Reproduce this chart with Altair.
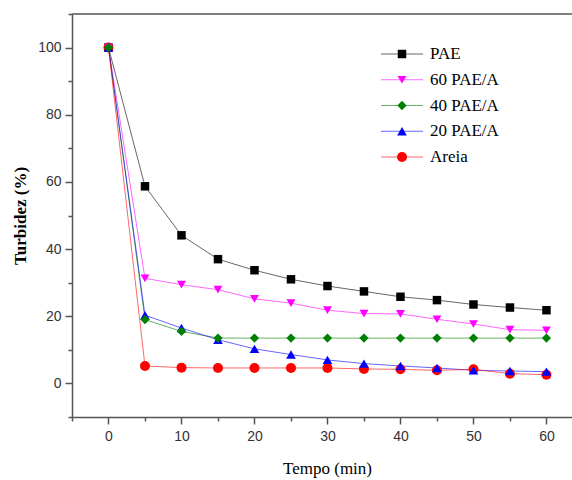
import altair as alt
import pandas as pd

times = [0, 5, 10, 15, 20, 25, 30, 35, 40, 45, 50, 55, 60]
pae = [100, 58.7, 44.1, 37.0, 33.7, 31.0, 29.0, 27.4, 25.8, 24.8, 23.5, 22.6, 21.8]
pae60 = [100, 31.3, 29.4, 27.9, 25.2, 23.9, 21.8, 20.8, 20.7, 19.1, 17.7, 16.0, 15.8]
pae40 = [100, 19.0, 15.5, 13.5, 13.5, 13.5, 13.5, 13.5, 13.5, 13.5, 13.5, 13.5, 13.5]
pae20 = [100, 20.3, 16.5, 13.0, 10.3, 8.6, 7.0, 5.9, 5.2, 4.6, 3.9, 3.7, 3.5]
areia = [100, 5.2, 4.7, 4.6, 4.6, 4.6, 4.6, 4.3, 4.2, 3.9, 4.2, 2.9, 2.6]

names = ["PAE", "60 PAE/A", "40 PAE/A", "20 PAE/A", "Areia"]
series_values = [pae, pae60, pae40, pae20, areia]
colors = ["#000000", "#ff00ff", "#008000", "#0000ff", "#ff0000"]
shapes = ["square", "triangle-down", "diamond", "triangle-up", "circle"]
sizes = [72, 100, 100, 100, 72]
zorder = [0, 3, 4, 2, 1]

x_major = [0, 10, 20, 30, 40, 50, 60]
x_minor = [-5, 5, 15, 25, 35, 45, 55]
y_major = [0, 20, 40, 60, 80, 100]
y_minor = [-10, 10, 30, 50, 70, 90, 110]

SERIF = "Liberation Serif, Times New Roman, serif"

rows = []
for name, vals, z in zip(names, series_values, zorder):
    for t, v in zip(times, vals):
        rows.append({"t": t, "v": v, "series": name, "z": z})
df = pd.DataFrame(rows)
leg = pd.DataFrame({"series": names})

color_scale = alt.Scale(domain=names, range=colors)
shape_scale = alt.Scale(domain=names, range=shapes)
size_scale = alt.Scale(domain=names, range=sizes)
xs = alt.Scale(domain=[-5, 63.5], nice=False, zero=False)
ys = alt.Scale(domain=[-10, 110], nice=False, zero=False)

x_enc = alt.X(
    "t:Q", scale=xs,
    axis=alt.Axis(
        orient="bottom",
        values=x_major,
        tickSize=7,
        title="Tempo (min)",
        titleFont=SERIF,
        titleFontSize=17,
        titleFontWeight="normal",
        titleX=255,
        titleY=51,
        titleBaseline="middle",
        labelPadding=5,
    ),
)
y_enc = alt.Y(
    "v:Q", scale=ys,
    axis=alt.Axis(
        orient="left",
        values=y_major,
        tickSize=7,
        title="Turbidez (%)",
        titleFont=SERIF,
        titleFontSize=17,
        titleFontWeight="bold",
        titlePadding=8,
        labelPadding=4,
    ),
)

base = alt.Chart(df)
lines = base.mark_line(strokeWidth=1, opacity=0.6).encode(
    x=x_enc,
    y=y_enc,
    color=alt.Color("series:N", scale=color_scale, legend=None),
    detail="series:N",
)
points = base.mark_point(filled=True, opacity=1).encode(
    x=alt.X("t:Q", scale=xs, axis=None),
    y=alt.Y("v:Q", scale=ys, axis=None),
    color=alt.Color("series:N", scale=color_scale, legend=None),
    shape=alt.Shape("series:N", scale=shape_scale, legend=None),
    size=alt.Size("series:N", scale=size_scale, legend=None),
    order=alt.Order("z:Q"),
)
minor = alt.Chart(alt.Data(values=[{"t": 0, "v": 0}])).mark_point(opacity=0).encode(
    x=alt.X("t:Q", scale=xs, axis=alt.Axis(orient="bottom", values=x_minor, tickSize=4,
                                           labels=False, domain=False, title=None)),
    y=alt.Y("v:Q", scale=ys, axis=alt.Axis(orient="left", values=y_minor, tickSize=4,
                                           labels=False, domain=False, title=None)),
)
border = alt.Chart(alt.Data(values=[{}])).mark_rule(color="#555555", strokeWidth=1.5).encode(
    x=alt.value(0), x2=alt.value(500), y=alt.value(0)
)
main = alt.layer(lines, points, minor, border).resolve_axis(x="independent", y="independent")

leg_y = alt.Y(
    "series:N", sort=names,
    scale=alt.Scale(type="point", range=[40, 143], padding=0),
    axis=None,
)
leg_base = alt.Chart(leg)
leg_rule = leg_base.mark_rule(strokeWidth=1, opacity=0.6).encode(
    x=alt.value(309), x2=alt.value(351), y=leg_y,
    color=alt.Color("series:N", scale=color_scale, legend=None),
)
leg_pt = leg_base.mark_point(filled=True, opacity=1).encode(
    x=alt.value(330), y=leg_y,
    color=alt.Color("series:N", scale=color_scale, legend=None),
    shape=alt.Shape("series:N", scale=shape_scale, legend=None),
    size=alt.Size("series:N", scale=size_scale, legend=None),
)
leg_text = leg_base.mark_text(
    align="left", baseline="middle", font=SERIF, fontSize=17, color="#000000"
).encode(x=alt.value(358), y=leg_y, text="series:N")
legend = alt.layer(leg_rule, leg_pt, leg_text)

chart = (
    alt.layer(main, legend)
    .resolve_scale(y="independent")
    .properties(
        width=500,
        height=403,
        autosize=alt.AutoSizeParams(type="none"),
        padding={"left": 72, "top": 14, "right": 0, "bottom": 63},
        background="white",
    )
    .configure_view(stroke=None)
    .configure_axis(
        domainColor="#555555",
        domainWidth=1.5,
        tickColor="#555555",
        tickWidth=1.5,
        grid=False,
        labelFont="Liberation Sans",
        labelFontSize=14,
        labelColor="#333333",
        titleColor="#000000",
    )
)

chart.save("out.html", embed_options={"renderer": "svg", "actions": False})
